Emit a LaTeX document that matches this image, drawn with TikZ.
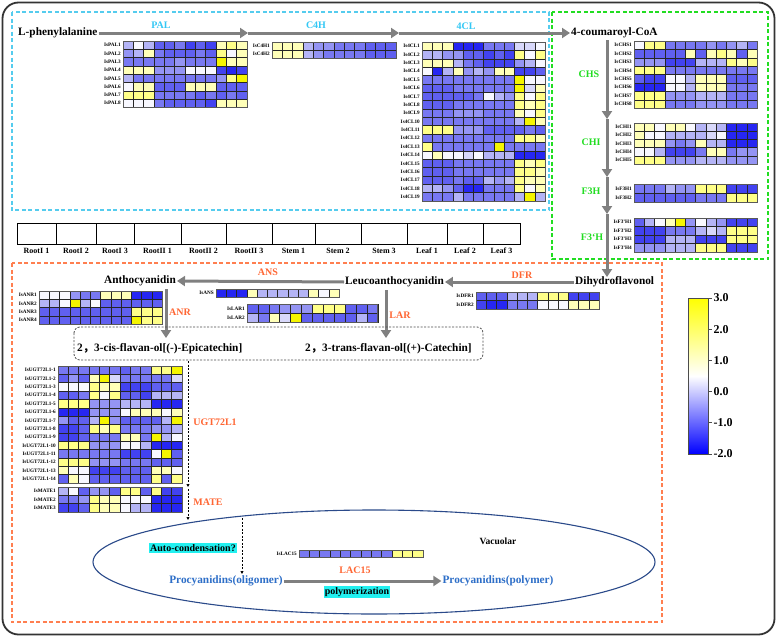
\documentclass[tikz,border=0pt]{standalone}
\usepackage{fontspec}
\setmainfont{Liberation Serif}
\newfontfamily\cjk{Noto Sans CJK SC}
\usetikzlibrary{arrows.meta,calc}

\definecolor{hmY}{HTML}{F5F500}
\definecolor{hmy}{HTML}{FFFF88}
\definecolor{hml}{HTML}{FFFFB8}
\definecolor{hmw}{HTML}{F8F8FF}
\definecolor{hma}{HTML}{D8D8FA}
\definecolor{hmb}{HTML}{B4B4F6}
\definecolor{hmc}{HTML}{9494F4}
\definecolor{hmd}{HTML}{7878F2}
\definecolor{hme}{HTML}{6060F0}
\definecolor{hmf}{HTML}{4242F0}
\definecolor{hmg}{HTML}{2626F2}
\definecolor{cyanlabc}{HTML}{33C8F5}
\definecolor{cyanbox}{HTML}{55CCEE}
\definecolor{greenc}{HTML}{22DD22}
\definecolor{orangec}{HTML}{FF6633}
\definecolor{orangebox}{HTML}{FF7F50}
\definecolor{procblue}{HTML}{2E6FC8}
\definecolor{ellc}{HTML}{2B4A8A}
\definecolor{hilite}{HTML}{22F0F0}
\definecolor{arrowgray}{HTML}{808080}

\newcommand{\hmap}[6]{%
  \foreach \rw [count=\jj] in {#6}{%
    \foreach \cc [count=\ii] in \rw{%
      \filldraw[fill=hm\cc,draw=black!85,line width=0.45pt]
        ({#1+(\ii-1)*#3},{#2+(\jj-1)*#4}) rectangle ++(#3,#4);}}%
  \draw[black!65,line width=0.9pt] (#1,#2) rectangle ++({12*#3},{#5*#4});}

\newcommand{\hlabs}[6]{%
  \foreach \jj in {1,...,#4}{%
    \node[rowlab,anchor=east] (#5\jj) at (#1,{#2+(\jj-0.5)*#3}) {#6\jj};}}

\tikzset{
  rowlab/.style={font=\fontsize{5.2}{6}\selectfont\bfseries,inner sep=0.5pt},
  cmpd/.style={font=\fontsize{11.3}{13}\selectfont\bfseries,inner sep=1pt},
  cyanlab/.style={font=\fontsize{10}{12}\selectfont\bfseries,text=cyanlabc,inner sep=1pt},
  greenlab/.style={font=\fontsize{10}{12}\selectfont\bfseries,text=greenc,inner sep=1pt},
  orangelab/.style={font=\fontsize{10}{12}\selectfont\bfseries,text=orangec,inner sep=1pt},
  bigarrow/.style={draw=arrowgray,line width=3pt,-{Triangle[length=8pt,width=10pt]},fill=arrowgray},
  dasharrow/.style={draw=black,dashed,dash pattern=on 2pt off 1.5pt,line width=0.7pt,-{Triangle[length=3pt,width=3pt]}},
  dbox/.style={dash pattern=on 4pt off 2.5pt,line width=1.1pt},
  samplab/.style={font=\fontsize{8}{9}\selectfont\bfseries,inner sep=0.5pt},
  barlab/.style={font=\fontsize{12}{14}\selectfont\bfseries,inner sep=0.5pt,anchor=west},
  hl/.style={fill=hilite,font=\fontsize{10}{12}\selectfont\bfseries,inner sep=1pt}
}

\begin{document}
\begin{tikzpicture}[x=1pt,y=-1pt]
\useasboundingbox (0,0) rectangle (777,637);
\fill[white] (0,0) rectangle (777,637);
\draw[line width=1.8pt,black!80,rounded corners=16pt] (2.5,2.5) rectangle (774.5,634.5);

% dashed frames
\draw[dbox,cyanbox] (12,12) rectangle (549,210);
\draw[dbox,greenc] (552,12) rectangle (768,259);
\draw[dbox,orangebox] (12,263) rectangle (662,622);

% compounds
\node[cmpd,anchor=west] (lphe) at (17,33) {L-phenylalanine};
\node[cmpd,anchor=west] (coum) at (570,33) {4-coumaroyl-CoA};
\node[cmpd,anchor=west] (dihy) at (574,282) {Dihydroflavonol};
\node[cmpd,anchor=west] (leuco) at (344,282) {Leucoanthocyanidin};
\node[cmpd,anchor=west] (antho) at (103,281) {Anthocyanidin};

% top arrows
\coordinate (a1) at (248,33);
\coordinate (a2) at (399,33);
\draw[bigarrow] (lphe.east) -- (a1);
\draw[bigarrow] (a1) -- (a2);
\draw[bigarrow] (a2) -- (coum.west);
\node[cyanlab] (lPAL) at (161,25) {PAL};
\node[cyanlab] (lC4H) at (316,25) {C4H};
\node[cyanlab] (l4CL) at (466,26) {4CL};

% vertical arrows
\coordinate (v0) at (607,40);
\coordinate (v1) at (607,119);
\coordinate (v2) at (607,177);
\coordinate (v3) at (607,214);
\coordinate (v4) at (607,277);
\draw[bigarrow] (v0) -- (v1);
\draw[bigarrow] (v1) -- (v2);
\draw[bigarrow] (v2) -- (v3);
\draw[bigarrow] (v3) -- (v4);
\node[greenlab] (lCHS) at (589,74) {CHS};
\node[greenlab] (lCHI) at (591,142) {CHI};
\node[greenlab] (lF3H) at (591,191) {F3H};
\node[greenlab] (lF3pH) at (592,237) {F3`H};

% lower arrows
\draw[bigarrow] (dihy.west) -- (leuco.east);
\draw[bigarrow] (leuco.west) -- (antho.east);
\coordinate (anr0) at (166,289);
\coordinate (anr1) at (166,338);
\coordinate (lar0) at (386,290);
\coordinate (lar1) at (386,338);
\draw[bigarrow] (anr0) -- (anr1);
\draw[bigarrow] (lar0) -- (lar1);
\node[orangelab] (lDFR) at (522,275) {DFR};
\node[orangelab] (lANS) at (268,272) {ANS};
\node[orangelab] (lANR) at (180,312) {ANR};
\node[orangelab] (lLAR) at (400,315) {LAR};
\node[orangelab] (lUGT) at (215,422) {UGT72L1};
\node[orangelab] (lMATE) at (208,502) {MATE};

% flavan-ol box
\draw[black!70,dash pattern=on 2pt off 1.5pt,line width=0.8pt,rounded corners=6pt] (74,327) rectangle (483,360);
\node[cmpd,anchor=west] (cis) at (76,349) {2{\cjk ，}3-cis-flavan-ol[(-)-Epicatechin]};
\node[cmpd,anchor=west] (trans) at (304,349) {2{\cjk ，}3-trans-flavan-ol[(+)-Catechin]};

% sample row
\foreach \xa/\xb/\lab [count=\k] in {17/56/RootI 1,56/96/RootI 2,96/134/RootI 3,134/181/RootII 1,181/226/RootII 2,226/272/RootII 3,272/315/Stem 1,315/361/Stem 2,361/407/Stem 3,407/447/Leaf 1,447/483/Leaf 2,483/520/Leaf 3}{
  \draw[black,line width=0.9pt] (\xa,223) rectangle (\xb,244);
  \node[samplab] (samp\k) at ({(\xa+\xb)/2},250.5) {\lab};
}

% heatmaps
\hmap{123}{41}{10.33}{8.3}{8}{{b,w,b,e,e,d,f,e,f,l,y,l},{c,b,l,d,e,e,e,d,e,y,w,l},{d,d,d,d,d,c,d,d,d,Y,l,l},{l,l,l,c,c,c,w,w,w,f,g,f},{b,d,d,d,d,d,d,d,d,c,y,Y},{w,l,l,e,e,e,l,l,l,e,e,e},{y,y,y,d,d,d,d,e,d,e,d,e},{w,w,w,d,e,e,e,e,f,l,l,l}}
\hlabs{121.5}{41}{8.3}{8}{pal}{IsPAL}

\hmap{272}{42}{10.33}{8}{2}{{l,l,l,b,c,c,d,d,d,e,e,e},{l,l,l,b,c,d,d,d,d,e,e,e}}
\hlabs{270.5}{42}{8}{2}{c4h}{IsC4H}

\hmap{422}{42}{10.25}{8.37}{19}{{l,l,l,g,g,g,d,d,d,a,a,w},{b,b,c,c,e,e,f,e,f,y,w,y},{l,l,l,b,d,e,f,f,f,c,b,w},{w,g,b,l,c,b,c,l,l,f,f,e},{d,d,d,d,d,d,d,d,d,Y,w,w},{e,e,e,d,d,d,d,d,d,Y,a,l},{e,e,e,e,e,d,w,b,c,y,w,y},{e,e,e,d,d,d,d,d,d,y,l,y},{d,d,d,c,c,c,d,d,d,l,w,y},{d,d,d,d,d,d,d,d,d,b,Y,l},{y,y,y,c,c,c,e,e,e,e,d,e},{d,d,d,d,d,d,d,d,d,y,y,l},{y,d,d,d,d,d,d,Y,d,d,d,d},{w,l,w,w,a,w,b,b,b,g,g,g},{e,e,e,d,d,d,d,d,d,y,l,y},{e,e,e,d,d,d,d,d,d,y,y,l},{e,e,e,d,e,e,b,c,b,y,l,l},{b,b,c,e,g,g,d,d,d,y,w,l},{d,d,d,b,d,d,d,d,d,b,Y,b}}
\hlabs{420.5}{42}{8.37}{19}{fcl}{Is4CL}

\hmap{634}{41}{10.25}{8.4}{8}{{w,y,y,d,d,d,d,c,d,c,b,d},{e,e,e,e,e,l,e,l,y,l,e,l},{c,c,c,f,f,f,b,b,b,y,l,y},{y,y,y,d,d,d,d,d,d,d,d,d},{e,f,f,w,w,b,l,l,l,e,e,e},{g,g,g,w,w,b,l,l,l,d,d,d},{y,y,y,c,c,c,b,b,b,d,d,d},{y,y,y,d,d,d,c,c,c,d,d,d}}
\hlabs{632.5}{41}{8.4}{8}{chs}{IsCHS}

\hmap{634}{123}{10.25}{8.2}{5}{{l,l,w,l,l,w,b,a,b,g,g,g},{l,w,w,b,b,b,b,a,w,g,g,g},{l,l,l,c,d,c,l,b,b,g,g,g},{w,w,b,f,f,f,d,l,l,d,c,c},{y,y,y,c,c,c,b,b,b,c,c,c}}
\hlabs{632.5}{123}{8.2}{5}{chi}{IsCHI}

\hmap{634}{184}{10.25}{9}{2}{{d,d,d,b,c,c,y,y,y,f,f,f},{e,e,e,e,e,e,d,d,d,y,y,y}}
\hlabs{632.5}{184}{9}{2}{fth}{IsF3H}

\hmap{634}{218}{10.25}{8.5}{4}{{e,b,w,l,Y,c,w,b,c,f,f,f},{f,f,f,d,d,d,b,a,b,y,y,y},{f,f,f,b,b,b,f,f,f,y,y,y},{c,c,c,b,b,b,y,y,y,f,f,f}}
\hlabs{632.5}{218}{8.5}{4}{ftph}{IsF3'H}

\hmap{476}{292}{10.25}{8.5}{2}{{e,e,e,b,b,b,y,y,y,f,f,f},{f,g,g,d,d,d,w,w,w,l,l,l}}
\hlabs{474.5}{292}{8.5}{2}{dfr}{IsDFR}

\hmap{216}{289}{10.25}{8}{1}{{g,g,g,l,b,b,b,b,b,l,w,l}}
\node[rowlab,anchor=east] (ans1) at (214.5,293) {IsANS};

\hmap{247}{304}{10.9}{9}{2}{{e,e,d,c,c,c,y,y,y,e,e,d},{b,d,l,a,Y,e,e,e,e,e,b,e}}
\hlabs{245.5}{304}{9}{2}{lar}{IsLAR}

\hmap{39}{291}{10.25}{8.25}{4}{{w,w,w,c,d,d,l,l,l,g,g,g},{b,b,w,Y,b,w,e,e,e,e,e,e},{e,e,e,e,e,e,e,e,e,y,y,y},{e,e,e,e,e,e,e,e,e,Y,y,y}}
\hlabs{37.5}{291}{8.25}{4}{anr}{IsANR}

\hmap{58}{366}{10.33}{8.36}{14}{{d,d,d,d,d,d,e,d,d,y,y,Y},{e,c,e,l,Y,a,d,d,d,d,d,a},{w,w,w,y,l,l,f,f,f,e,e,e},{e,e,d,y,w,y,e,e,f,b,b,b},{y,y,y,c,c,c,b,b,b,g,g,g},{g,g,g,c,c,c,w,l,l,l,w,l},{c,e,e,b,Y,c,e,e,e,e,b,Y},{f,f,e,y,l,y,d,d,d,c,c,b},{f,f,e,d,d,d,l,l,d,Y,b,w},{y,y,y,c,c,c,w,w,b,g,g,g},{d,d,d,d,d,d,f,f,f,w,Y,e},{y,y,y,c,c,c,d,d,d,e,e,e},{l,w,w,f,f,f,e,e,e,l,l,w},{e,l,w,e,e,e,e,e,e,y,e,y}}
\hlabs{56.5}{366}{8.36}{14}{ugt}{IsUGT72L1-}

\hmap{58}{487}{10.33}{8.33}{3}{{b,w,e,c,c,e,y,y,e,y,f,f},{d,d,c,y,l,l,w,w,w,g,g,g},{f,f,e,y,l,l,w,b,b,g,g,g}}
\hlabs{56.5}{487}{8.33}{3}{mate}{IsMATE}

% dashed arrows to vacuole
\coordinate (d0) at (188,361);
\coordinate (d1) at (188,487);
\coordinate (d2) at (188,489);
\coordinate (d3) at (188,520);
\draw[dasharrow] (d0) -- (d1);
\draw[dasharrow] (d2) -- (d3);

% vacuole
\draw[ellc,line width=1.1pt] (374,562) ellipse [x radius=281, y radius=52];
\node[font=\fontsize{9.5}{11}\selectfont\bfseries,inner sep=1pt] (vac) at (498,541) {Vacuolar};
\node[hl] (auto) at (193,548) {Auto-condensation?};
\node[cmpd,text=procblue] (olig) at (226,581) {Procyanidins(oligomer)};
\node[cmpd,text=procblue] (poly) at (498,581) {Procyanidins(polymer)};
\draw[bigarrow] (olig.east) -- (poly.west);
\coordinate (e0) at (242,518);
\coordinate (e1) at (242,574);
\draw[dasharrow] (e0) -- (e1);
\node[orangelab] (lLAC) at (355,570) {LAC15};
\node[hl] (polym) at (357,592) {polymerization};
\hmap{299}{550}{10.33}{7.5}{1}{{d,d,d,d,d,d,d,d,d,y,y,y}}
\node[rowlab,anchor=east] (lac1) at (297.5,553.75) {IsLAC15};

% colour bar
\shade[top color=yellow,bottom color=blue,middle color=white] (688,298) rectangle (708,454);
\draw[black!70,line width=0.8pt] (688,298) rectangle (708,454);
\foreach \yy/\lab [count=\k] in {298/3.0,329.2/2.0,360.4/1.0,391.6/0.0,422.8/-1.0,454/-2.0}{
  \draw[black!70,line width=0.8pt] (708,\yy) -- (712,\yy);
  \node[barlab] (bar\k) at (713,\yy) {\lab};
}
\end{tikzpicture}
\end{document}
